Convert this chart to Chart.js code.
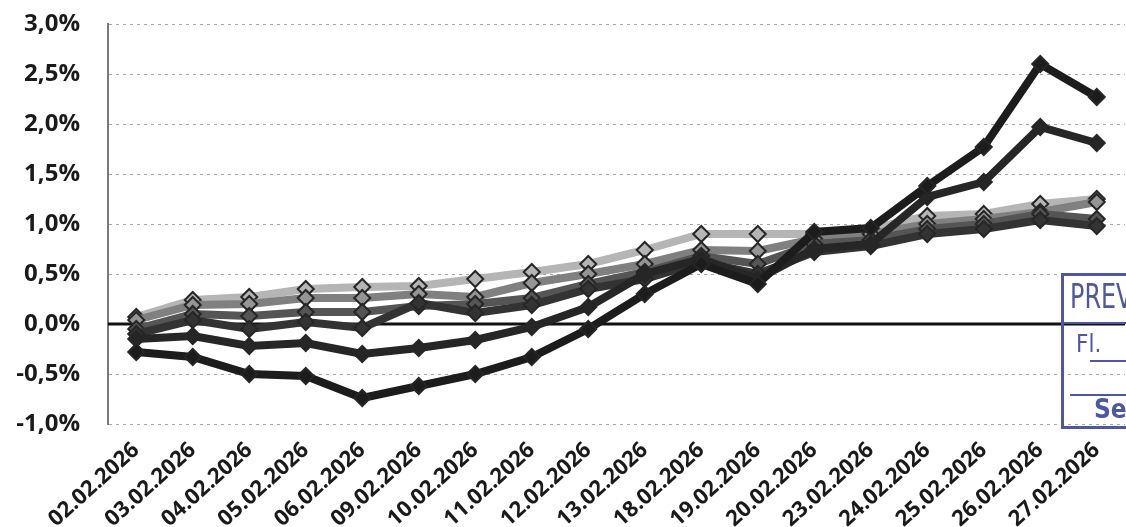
<!DOCTYPE html>
<html>
<head>
<meta charset="utf-8">
<script src="https://cdn.jsdelivr.net/npm/chart.js@4.4.1/dist/chart.umd.min.js"></script>
<style>
  html, body { margin: 0; padding: 0; background: #fff; overflow: hidden; }
  #wrap { position: relative; width: 1135px; height: 527px; }
  #stamp {
    position: absolute; left: 1061px; top: 273px; width: 120px; height: 156px;
    border: 3px solid #4d57a3; box-sizing: border-box; color: #4d57a3;
    font-family: "Liberation Sans Narrow", "DejaVu Sans Condensed", sans-serif;
  }
  #stamp .t1 { position: absolute; left: 6px; top: 0px; font-size: 34px; transform: scaleX(0.78); transform-origin: left top; }
  #stamp .l1 { position: absolute; left: 0; top: 46px; width: 100%; border-top: 2px solid #4d57a3; }
  #stamp .t2 { position: absolute; left: 12px; top: 54px; font-size: 24px; }
  #stamp .l2 { position: absolute; left: 26px; top: 84px; width: 100%; border-top: 2px solid #4d57a3; }
  #stamp .l3 { position: absolute; left: 6px; top: 118px; width: 100%; border-top: 2px solid #4d57a3; }
  #stamp .t3 { position: absolute; left: 30px; top: 118px; font-size: 26px; font-weight: bold; }
</style>
</head>
<body>
<div id="wrap">
  <canvas id="line_chart" width="1135" height="527"></canvas>
  <div id="stamp"><span class="t1">PREVIC</span><div class="l1"></div><span class="t2">Fl.</span><div class="l2"></div><div class="l3"></div><span class="t3">Se</span></div>
</div>
<script>
var dates = ['02.02.2026','03.02.2026','04.02.2026','05.02.2026','06.02.2026','09.02.2026',
  '10.02.2026','11.02.2026','12.02.2026','13.02.2026','18.02.2026','19.02.2026',
  '20.02.2026','23.02.2026','24.02.2026','25.02.2026','26.02.2026','27.02.2026'];

// values in percent
var serieD = [-0.28,-0.33,-0.50,-0.52,-0.74,-0.62,-0.50,-0.33,-0.05,0.30,0.60,0.40,0.92,0.96,1.38,1.77,2.60,2.27];
var serieE = [-0.15,-0.12,-0.22,-0.19,-0.30,-0.24,-0.16,-0.03,0.17,0.50,0.65,0.45,0.75,0.80,1.27,1.42,1.97,1.81];
var serieF = [-0.10,0.04,-0.05,0.02,-0.04,0.21,0.11,0.19,0.35,0.45,0.62,0.50,0.72,0.78,0.90,0.95,1.04,0.98];
var serieC = [-0.05,0.10,0.08,0.12,0.12,0.18,0.20,0.26,0.40,0.52,0.68,0.60,0.80,0.84,0.95,1.00,1.10,1.05];
var serieB = [0.04,0.19,0.20,0.26,0.26,0.30,0.27,0.41,0.50,0.60,0.74,0.73,0.85,0.90,1.00,1.05,1.12,1.22];
var serieA = [0.07,0.24,0.27,0.35,0.37,0.38,0.45,0.52,0.60,0.74,0.90,0.90,0.90,0.95,1.08,1.10,1.20,1.25];

var yMin = -1.0, yMax = 3.0, yStep = 0.5;

function serie(data, line, fill) {
    return {
        data: data,
        borderColor: line,
        backgroundColor: fill,
        pointBackgroundColor: fill,
        pointBorderColor: '#262626',
        pointBorderWidth: 2,
        borderWidth: 8,
        pointStyle: 'rectRot',
        pointRadius: 8,
        tension: 0
    };
}

var zeroLine = {
    id: 'zeroLine',
    beforeDatasetsDraw: function (chart) {
        var ctx = chart.ctx, area = chart.chartArea;
        var y = chart.scales.y.getPixelForValue(0);
        ctx.save();
        ctx.strokeStyle = '#111';
        ctx.lineWidth = 3;
        ctx.beginPath();
        ctx.moveTo(area.left, y);
        ctx.lineTo(area.right, y);
        ctx.stroke();
        ctx.restore();
    }
};

new Chart(document.getElementById('line_chart').getContext('2d'), {
    type: 'line',
    data: {
        labels: dates,
        datasets: [
            serie(serieD, '#1c1c1c', '#1c1c1c'),
            serie(serieE, '#262626', '#262626'),
            serie(serieF, '#333333', '#333333'),
            serie(serieC, '#555555', '#555555'),
            serie(serieB, '#808080', '#959595'),
            serie(serieA, '#b5b5b5', '#b5b5b5')
        ]
    },
    plugins: [zeroLine],
    options: {
        responsive: false,
        animation: false,
        layout: { padding: { top: 24, right: 4, left: 0, bottom: 0 } },
        plugins: { legend: { display: false }, tooltip: { enabled: false } },
        scales: {
            x: {
                offset: true,
                grid: { display: false, offset: true },
                border: { display: false },
                afterFit: function (s) { s.height = 103; s.paddingTop = 0; s.paddingBottom = 0; },
                ticks: {
                    color: '#1a1a1a',
                    font: { family: 'Open Sans', size: 22, weight: 'bold' },
                    minRotation: 42, maxRotation: 42,
                    padding: 5,
                    autoSkip: false
                }
            },
            y: {
                min: yMin, max: yMax,
                afterFit: function (s) { s.width = 108; s.paddingTop = 0; s.paddingBottom = 0; },
                grid: { color: '#a8a8a8', lineWidth: 1, drawTicks: false },
                border: { display: true, color: '#7a7a7a', width: 2, dash: [3, 4] },
                ticks: {
                    stepSize: yStep,
                    padding: 28,
                    color: '#1a1a1a',
                    font: { family: 'Open Sans', size: 24, weight: 'bold' },
                    callback: function (v) { return v.toFixed(1).replace('.', ',') + '%'; }
                }
            }
        }
    }
});
</script>
</body>
</html>
